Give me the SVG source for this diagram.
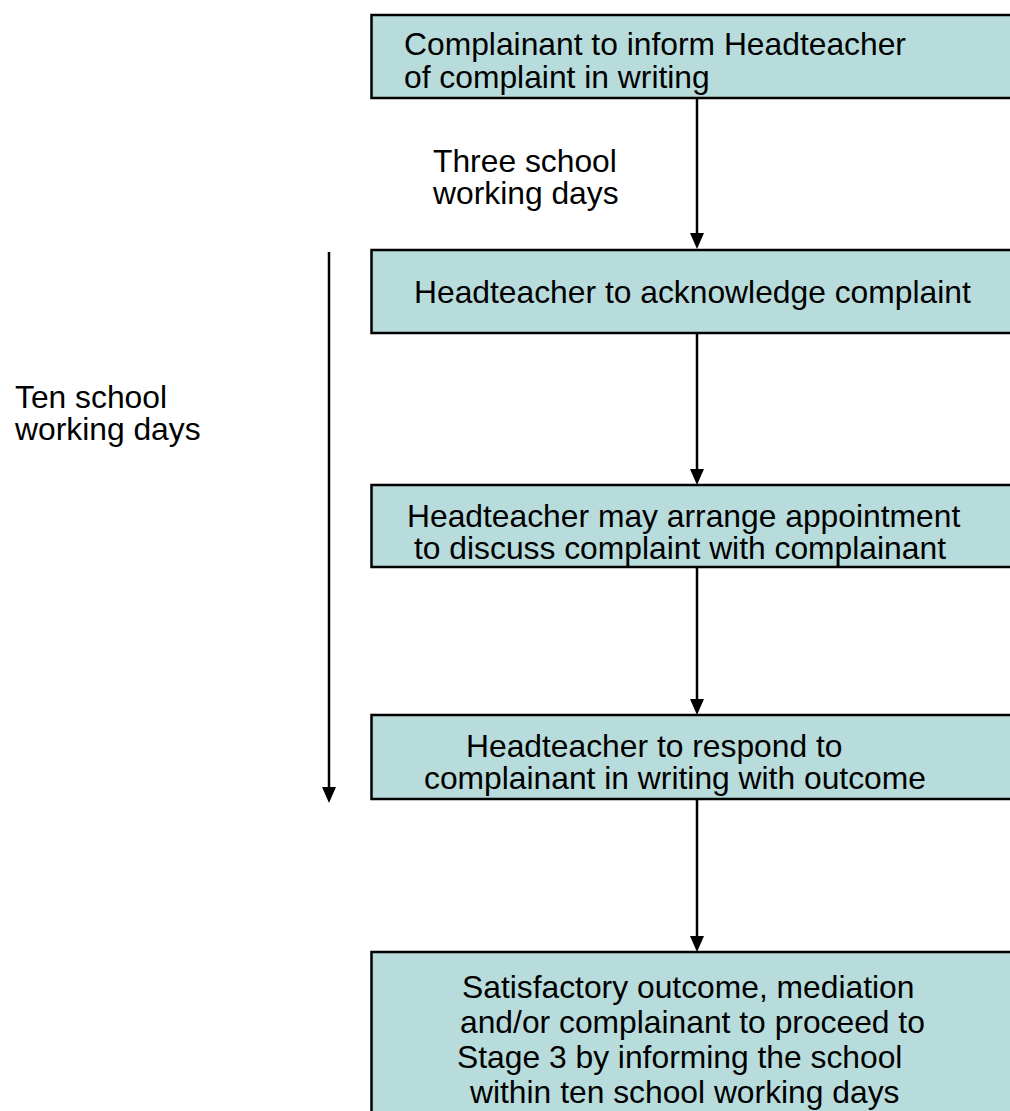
<svg xmlns="http://www.w3.org/2000/svg" width="1010" height="1111" viewBox="0 0 1010 1111">
<style>
.box{fill:#b8dcdb;stroke:#000;stroke-width:2.5}
.t{font-family:"Liberation Sans",Arial,sans-serif;font-size:31.8px;fill:#000}
.c{stroke:#000;stroke-width:2.5;fill:none}
.ah{fill:#000}
</style>
<rect width="1010" height="1111" fill="#fff"/>
<g id="connectors">
<line class="c" x1="697" y1="98" x2="697" y2="234"/>
<path class="ah" d="M690,233 L704,233 L697,249 Z"/>
<line class="c" x1="697" y1="333" x2="697" y2="470"/>
<path class="ah" d="M690,469 L704,469 L697,485 Z"/>
<line class="c" x1="697" y1="567" x2="697" y2="700"/>
<path class="ah" d="M690,699 L704,699 L697,715 Z"/>
<line class="c" x1="697" y1="799" x2="697" y2="937"/>
<path class="ah" d="M690,936 L704,936 L697,952 Z"/>
<line class="c" x1="329" y1="252" x2="329" y2="788"/>
<path class="ah" d="M322,787 L336,787 L329,803 Z"/>
</g>
<g id="label-three">
<text class="t" x="433" y="172">Three school</text>
<text class="t" x="433" y="204">working days</text>
</g>
<g id="label-ten">
<text class="t" x="15" y="408">Ten school</text>
<text class="t" x="15" y="440">working days</text>
</g>
<g id="node1">
<rect class="box" x="371.5" y="15" width="650" height="83"/>
<text class="t" x="404" y="55">Complainant to inform Headteacher</text>
<text class="t" x="404" y="88">of complaint in writing</text>
</g>
<g id="node2">
<rect class="box" x="371.5" y="250" width="650" height="83"/>
<text class="t" x="414" y="303">Headteacher to acknowledge complaint</text>
</g>
<g id="node3">
<rect class="box" x="371.5" y="485" width="650" height="82"/>
<text class="t" x="407" y="527">Headteacher may arrange appointment</text>
<text class="t" x="414" y="559">to discuss complaint with complainant</text>
</g>
<g id="node4">
<rect class="box" x="371.5" y="715" width="650" height="84"/>
<text class="t" x="466" y="757">Headteacher to respond to</text>
<text class="t" x="424" y="789">complainant in writing with outcome</text>
</g>
<g id="node5">
<rect class="box" x="371.5" y="952" width="650" height="180"/>
<text class="t" x="462" y="998">Satisfactory outcome, mediation</text>
<text class="t" x="460" y="1033">and/or complainant to proceed to</text>
<text class="t" x="457" y="1068">Stage 3 by informing the school</text>
<text class="t" x="470" y="1103">within ten school working days</text>
</g>
</svg>
